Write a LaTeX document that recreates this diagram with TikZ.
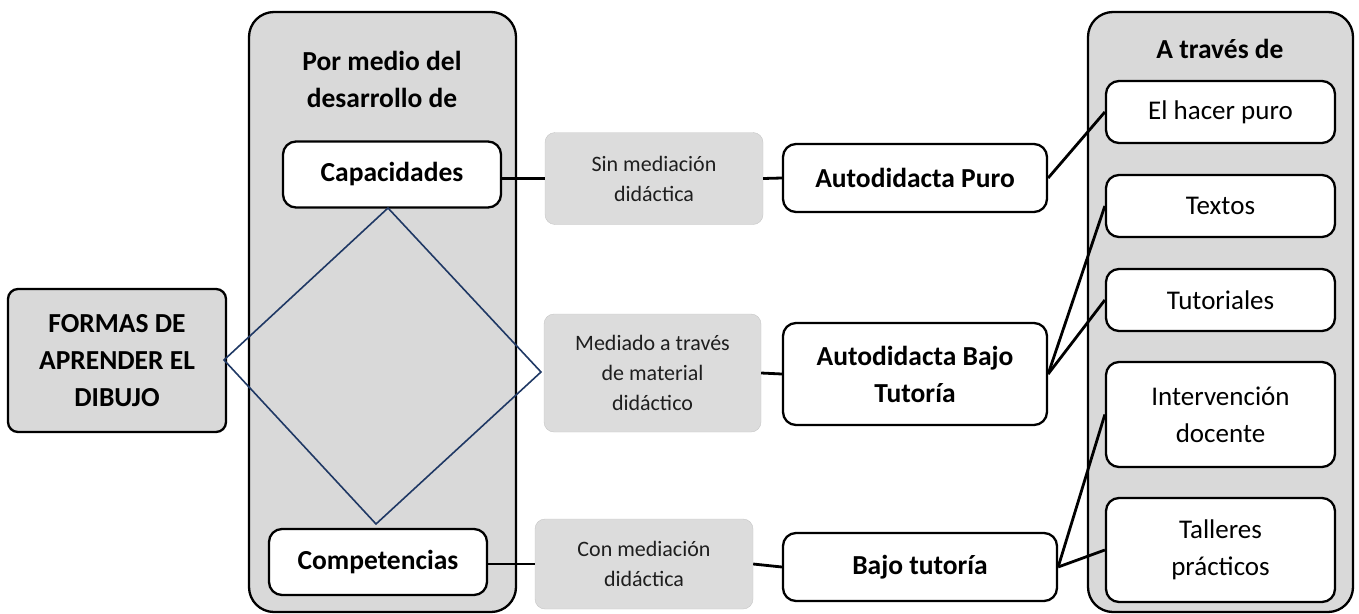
\documentclass[tikz,border=0pt]{standalone}
\usepackage{fontspec}
\setmainfont{Carlito}
\definecolor{boxgray}{HTML}{D9D9D9}
\definecolor{midgray}{HTML}{DCDCDC}
\definecolor{navy}{HTML}{1F3864}
\definecolor{txtgray}{HTML}{1E1E1E}
\tikzset{
  bigfont/.style={font=\fontsize{27.5}{37}\selectfont\bfseries},
  regfont/.style={font=\fontsize{27}{37}\selectfont},
  midfont/.style={font=\fontsize{22}{30}\selectfont, text=txtgray},
  column/.style={draw=black, line width=2.3pt, fill=boxgray, rounded corners=25pt, inner sep=0pt},
  whitebox/.style={draw=black, line width=2.3pt, fill=white, rounded corners=13pt, inner sep=0pt, align=center},
  midbox/.style={fill=midgray, draw=midgray!90!black, line width=0.4pt, rounded corners=10pt, inner sep=0pt, align=center, midfont},
  mainbox/.style={draw=black, line width=2.3pt, fill=boxgray, rounded corners=10pt, inner sep=0pt, align=center, bigfont},
  link/.style={draw=black, line width=2.8pt},
  diam/.style={draw=navy, line width=1.6pt}
}
\begin{document}
\begin{tikzpicture}[x=1pt,y=-1pt]
\useasboundingbox (0,0) rectangle (1359,613);
% columns
\node[column, minimum width=267pt, minimum height=600pt] (col1) at (382.5,312) {};
\node[column, minimum width=265pt, minimum height=600pt] (col2) at (1220.5,312) {};
\node[bigfont, align=center] (t1) at (382,79) {Por medio del\\desarrollo de};
\node[bigfont] (t2) at (1220,49) {A través de};
% left box
\node[mainbox, minimum width=218pt, minimum height=143pt] (formas) at (117,360.5) {FORMAS DE\\APRENDER EL\\DIBUJO};
% column 1 boxes
\node[whitebox, bigfont, minimum width=218pt, minimum height=66pt] (capac) at (392,174.5) {Capacidades};
\node[whitebox, bigfont, minimum width=218pt, minimum height=66pt] (compet) at (378,562) {Competencias};
% diamond
\coordinate (d1) at (388,208);
\coordinate (d2) at (541,372);
\coordinate (d3) at (376,524);
\coordinate (d4) at (224,360);
\draw[diam] (d1) -- (d2) -- (d3) -- (d4) -- cycle;
% middle gray boxes
\node[midbox, minimum width=218pt, minimum height=92pt] (sin) at (654,178.5) {Sin mediación\\didáctica};
\node[midbox, minimum width=217pt, minimum height=118pt] (med) at (652.5,373) {Mediado a través\\de material\\didáctico};
\node[midbox, minimum width=218pt, minimum height=90pt] (con) at (644,564) {Con mediación\\didáctica};
% middle white boxes
\node[whitebox, bigfont, minimum width=264pt, minimum height=68pt] (puro) at (915,178) {Autodidacta Puro};
\node[whitebox, bigfont, minimum width=264pt, minimum height=102pt] (abt) at (915,374) {Autodidacta Bajo\\Tutoría};
\node[whitebox, bigfont, minimum width=274pt, minimum height=68pt] (bt) at (920,567) {Bajo tutoría};
% right column boxes
\node[whitebox, regfont, minimum width=229pt, minimum height=62pt] (hacer) at (1220.5,112) {El hacer puro};
\node[whitebox, regfont, minimum width=229pt, minimum height=62pt] (textos) at (1220.5,206) {Textos};
\node[whitebox, regfont, minimum width=229pt, minimum height=62pt] (tutor) at (1220.5,300) {Tutoriales};
\node[whitebox, regfont, minimum width=229pt, minimum height=105pt] (interv) at (1220.5,414.5) {Intervención\\docente};
\node[whitebox, regfont, minimum width=229pt, minimum height=104pt] (talleres) at (1220.5,550) {Talleres\\prácticos};
% connectors
\draw[link] (capac.east |- sin.west) -- (sin.west);
\draw[link] (sin.east) -- (puro.west);
\draw[link] (med.east) -- (abt.west);
\draw[link] (compet.east |- con.west) -- (con.west);
\draw[link] (con.east) -- (bt.west);
\draw[link] (puro.east) -- (hacer.west);
\draw[link] (abt.east) -- (textos.west);
\draw[link] (abt.east) -- (tutor.west);
\draw[link] (bt.east) -- (interv.west);
\draw[link] (bt.east) -- (talleres.west);
\end{tikzpicture}
\end{document}
